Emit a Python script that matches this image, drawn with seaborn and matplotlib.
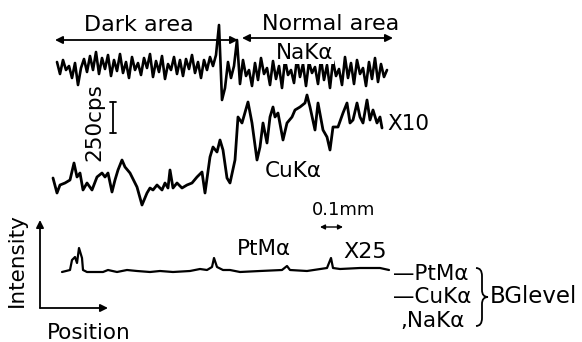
import numpy as np
import pandas as pd
import matplotlib
matplotlib.use("Agg")
import matplotlib.pyplot as plt
from matplotlib.path import Path
from matplotlib.patches import PathPatch
import seaborn as sns

# ---------------- data (pixel-space units) ----------------
# NaKa trace: intensity readings every 3 px of scan position, starting at x=57
na_start, na_step = 57, 3
na_dark = [62, 74, 60, 70, 66, 78, 63, 85, 68, 59,
           72, 56, 70, 52, 74, 58, 69, 55, 76, 60,
           71, 54, 73, 62, 78, 57, 70, 63, 75, 58,
           68, 54, 77, 61, 72, 56, 79, 64, 70, 57,
           74, 60, 76, 59, 69, 55, 73, 62, 78, 60,
           70, 57, 66, 55]
na_spike = [25, 100]
na_normal = [88, 62, 78, 66, 40, 84, 60, 76, 70, 86,
             63, 80, 58, 74, 68, 85, 61, 79, 66, 88,
             60, 75, 70, 83, 58, 77, 64, 86, 62, 73,
             67, 84, 59, 80, 65, 88, 61, 76, 69, 85,
             57, 78, 63, 84, 60, 74, 68, 86, 62, 79,
             58, 82, 64, 77, 70]
na_vals = na_dark + na_spike + na_normal

# CuKa trace (x10)
cu_pos = [53, 57, 60, 65, 70, 74, 77, 80, 83, 87, 92, 97, 102, 105, 108, 112, 115, 118,
          122, 125, 130, 137, 142, 147, 150, 153, 157, 162, 165, 168, 170, 173, 177, 182,
          187, 192, 197, 202, 205, 210, 213, 217, 220, 223, 227, 230, 235, 238, 242, 248,
          252, 257, 260, 263, 267, 270, 273, 275, 278, 283, 287, 292, 295, 300, 305, 307,
          310, 315, 318, 323, 327, 330, 333, 338, 343, 347, 350, 353, 357, 360, 363, 367,
          370, 373, 377, 380, 382]
cu_vals = [178, 193, 185, 183, 180, 163, 177, 173, 190, 183, 190, 177, 173, 177, 173, 192,
           180, 170, 160, 167, 173, 187, 205, 193, 188, 190, 185, 190, 183, 188, 170, 188,
           183, 188, 185, 183, 177, 172, 193, 157, 147, 152, 140, 150, 178, 183, 160, 117,
           123, 102, 123, 160, 147, 123, 143, 117, 107, 117, 113, 140, 123, 117, 110, 107,
           103, 95, 107, 130, 103, 130, 137, 150, 127, 127, 113, 103, 123, 120, 103, 117,
           123, 100, 120, 110, 123, 117, 128]

# PtMa trace (x25)
pt_pos = [62, 70, 72, 75, 77, 79, 82, 83, 87, 103, 108, 117, 127, 137, 150, 160, 173,
          190, 200, 207, 212, 214, 217, 223, 230, 240, 260, 282, 287, 290, 307, 327,
          331, 333, 340, 360, 380, 389]
pt_vals = [272, 270, 260, 257, 263, 248, 258, 270, 272, 272, 270, 272, 270, 271, 272,
           271, 272, 271, 269, 270, 267, 258, 267, 270, 270, 272, 271, 270, 266, 270,
           271, 268, 258, 268, 269, 268, 268, 270]

legend_labels = ["\u2014PtM\u03b1", "\u2014CuK\u03b1", ",NaK\u03b1"]

# ---------------- figure ----------------
sns.set_theme(style="white")
plt.rcParams["font.family"] = ["DejaVu Sans"]
plt.rcParams["text.color"] = "black"

fig = plt.figure(figsize=(5.82, 3.42), dpi=100)
ax = fig.add_axes([0, 0, 1, 1])

na_df = pd.DataFrame({"pos": na_start + na_step * np.arange(len(na_vals)), "val": na_vals})
cu_df = pd.DataFrame({"pos": cu_pos, "val": cu_vals})
pt_df = pd.DataFrame({"pos": pt_pos, "val": pt_vals})

sns.lineplot(data=na_df, x="pos", y="val", ax=ax, color="black", lw=1.9,
             sort=False, estimator=None)
sns.lineplot(data=cu_df, x="pos", y="val", ax=ax, color="black", lw=2.0,
             sort=False, estimator=None)
sns.lineplot(data=pt_df, x="pos", y="val", ax=ax, color="black", lw=1.6,
             sort=False, estimator=None)
ax.set_xlim(0, 582)
ax.set_ylim(342, 0)
ax.axis("off")

fs = 15.5
# region arrows
arr = dict(arrowstyle="<|-|>", color="black", lw=1.3, mutation_scale=11,
           shrinkA=0, shrinkB=0)
ax.annotate("", xy=(55, 40), xytext=(238, 40), arrowprops=arr)
ax.annotate("", xy=(242, 38), xytext=(393, 38), arrowprops=arr)
ax.text(139, 31, "Dark area", fontsize=16, ha="center", va="baseline")
ax.text(331, 30, "Normal area", fontsize=16, ha="center", va="baseline")

ax.text(305, 59, "NaK\u03b1", fontsize=fs, ha="center", va="baseline", zorder=5,
        bbox=dict(facecolor="white", edgecolor="none", pad=0.5))
ax.text(408, 130, "X10", fontsize=fs, ha="center", va="baseline")
ax.text(293, 177, "CuK\u03b1", fontsize=fs, ha="center", va="baseline")
ax.text(264, 255, "PtM\u03b1", fontsize=fs, ha="center", va="baseline")
ax.text(344, 215, "0.1mm", fontsize=13, ha="center", va="baseline")
ax.annotate("", xy=(320, 227), xytext=(343, 227),
            arrowprops=dict(arrowstyle="<|-|>", color="black", lw=1.0,
                            mutation_scale=7, shrinkA=0, shrinkB=0))
ax.text(365, 258, "X25", fontsize=16, ha="center", va="baseline")

# 250 cps scale bar
ax.text(94, 122, "250cps", fontsize=fs, rotation=90, ha="center", va="center")
ax.plot([113, 113], [102, 133], color="black", lw=1.3)
ax.plot([110, 116], [102, 102], color="black", lw=1.3)
ax.plot([110, 116], [133, 133], color="black", lw=1.3)

# Intensity / Position axes
ax.annotate("", xy=(40, 220), xytext=(40, 308),
            arrowprops=dict(arrowstyle="-|>", color="black", lw=1.3,
                            mutation_scale=11, shrinkA=0, shrinkB=0))
ax.annotate("", xy=(108, 308), xytext=(40, 308),
            arrowprops=dict(arrowstyle="-|>", color="black", lw=1.3,
                            mutation_scale=11, shrinkA=0, shrinkB=0))
ax.text(17, 260, "Intensity", fontsize=fs, rotation=90, ha="center", va="center")
ax.text(47, 339, "Position", fontsize=fs, ha="left", va="baseline")

# background level labels
for lab, yb, xl in zip(legend_labels, [280, 303, 327], [393, 393, 400]):
    ax.text(xl, yb, lab, fontsize=fs, ha="left", va="baseline")

brace = Path([(476, 268), (482, 268), (482, 276), (482, 290), (482, 297), (488, 297),
              (482, 297), (482, 304), (482, 318), (482, 326), (476, 326)],
             [Path.MOVETO, Path.CURVE3, Path.CURVE3, Path.LINETO, Path.CURVE3, Path.CURVE3,
              Path.CURVE3, Path.CURVE3, Path.LINETO, Path.CURVE3, Path.CURVE3])
ax.add_patch(PathPatch(brace, facecolor="none", edgecolor="black", lw=1.3))
ax.text(490, 303, "BGlevel", fontsize=16.5, ha="left", va="baseline")

fig.savefig("out.png", dpi=100)
